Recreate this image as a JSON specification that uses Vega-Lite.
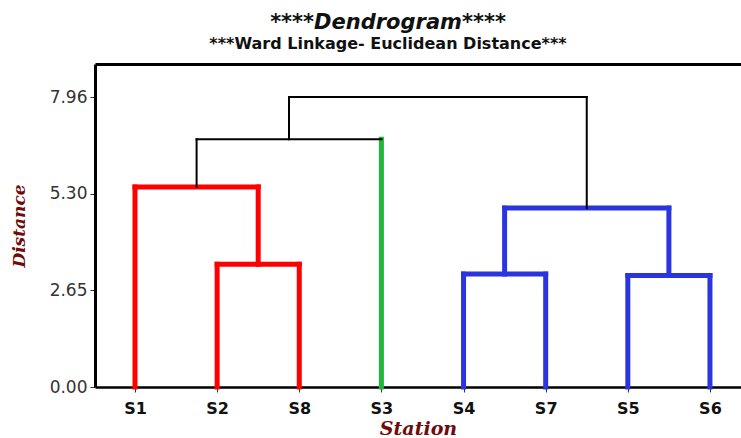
{
  "$schema": "https://vega.github.io/schema/vega-lite/v6.json",
  "autosize": {"type": "none"},
  "padding": {"left": 95, "top": 64, "right": 0, "bottom": 51},
  "width": 646,
  "height": 323,
  "background": "white",
  "config": {"view": {"stroke": null}},
  "title": {
    "text": "****Dendrogram****",
    "subtitle": "***Ward Linkage- Euclidean Distance***",
    "anchor": "middle",
    "dx": -30,
    "offset": 12,
    "font": "DejaVu Sans",
    "fontSize": 21,
    "fontWeight": "bold",
    "fontStyle": "italic",
    "color": "#111111",
    "subtitleFont": "DejaVu Sans",
    "subtitleFontSize": 16,
    "subtitleFontWeight": "bold",
    "subtitleColor": "#111111",
    "subtitlePadding": 3
  },
  "data": {
    "values": [
      {"x": 2, "x2": 2, "y": 0, "y2": 3.37, "grp": "red"},
      {"x": 3, "x2": 3, "y": 0, "y2": 3.37, "grp": "red"},
      {"x": 2, "x2": 3, "y": 3.37, "y2": 3.37, "grp": "red"},
      {"x": 1, "x2": 1, "y": 0, "y2": 5.49, "grp": "red"},
      {"x": 2.5, "x2": 2.5, "y": 3.37, "y2": 5.49, "grp": "red"},
      {"x": 1, "x2": 2.5, "y": 5.49, "y2": 5.49, "grp": "red"},
      {"x": 4, "x2": 4, "y": 0, "y2": 6.8, "grp": "green"},
      {"x": 5, "x2": 5, "y": 0, "y2": 3.1, "grp": "blue"},
      {"x": 6, "x2": 6, "y": 0, "y2": 3.1, "grp": "blue"},
      {"x": 5, "x2": 6, "y": 3.1, "y2": 3.1, "grp": "blue"},
      {"x": 7, "x2": 7, "y": 0, "y2": 3.06, "grp": "blue"},
      {"x": 8, "x2": 8, "y": 0, "y2": 3.06, "grp": "blue"},
      {"x": 7, "x2": 8, "y": 3.06, "y2": 3.06, "grp": "blue"},
      {"x": 5.5, "x2": 5.5, "y": 3.1, "y2": 4.91, "grp": "blue"},
      {"x": 7.5, "x2": 7.5, "y": 3.06, "y2": 4.91, "grp": "blue"},
      {"x": 5.5, "x2": 7.5, "y": 4.91, "y2": 4.91, "grp": "blue"},
      {"x": 1.75, "x2": 1.75, "y": 5.49, "y2": 6.8, "grp": "link"},
      {"x": 1.75, "x2": 4, "y": 6.8, "y2": 6.8, "grp": "link"},
      {"x": 2.875, "x2": 2.875, "y": 6.8, "y2": 7.96, "grp": "link"},
      {"x": 6.5, "x2": 6.5, "y": 4.91, "y2": 7.96, "grp": "link"},
      {"x": 2.875, "x2": 6.5, "y": 7.96, "y2": 7.96, "grp": "link"}
    ]
  },
  "resolve": {"axis": {"x": "independent"}},
  "layer": [
    {
      "mark": {"type": "rule", "strokeCap": "square"},
      "encoding": {
        "x": {
          "field": "x",
          "type": "quantitative",
          "scale": {"domain": [0.513, 8.378], "nice": false, "zero": false},
          "axis": {
            "values": [1, 2, 3, 4, 5, 6, 7, 8],
            "labelExpr": "['','S1','S2','S8','S3','S4','S7','S5','S6'][datum.value]",
            "grid": false,
            "domainColor": "#000000",
            "domainWidth": 2.5,
            "tickColor": "#333333",
            "tickSize": 5,
            "tickWidth": 1,
            "labelFont": "DejaVu Sans",
            "labelFontSize": 16,
            "labelFontWeight": "bold",
            "labelColor": "#111111",
            "labelPadding": 8,
            "title": "Station",
            "titleFont": "DejaVu Serif",
            "titleFontSize": 19,
            "titleFontWeight": "bold",
            "titleFontStyle": "italic",
            "titleColor": "#6E0B0B",
            "titleY": 47,
            "titleBaseline": "alphabetic"
          }
        },
        "x2": {"field": "x2"},
        "y": {
          "field": "y",
          "type": "quantitative",
          "scale": {"domain": [0, 8.866], "nice": false},
          "axis": {
            "values": [0, 2.65, 5.3, 7.96],
            "format": ".2f",
            "grid": false,
            "domainColor": "#000000",
            "domainWidth": 3,
            "tickColor": "#333333",
            "tickSize": 5,
            "tickWidth": 1,
            "labelFont": "DejaVu Sans",
            "labelFontSize": 17,
            "labelColor": "#333333",
            "labelPadding": 3,
            "title": "Distance",
            "titleFont": "DejaVu Serif",
            "titleFontSize": 17,
            "titleFontWeight": "bold",
            "titleFontStyle": "italic",
            "titleColor": "#6E0B0B",
            "titleX": -71,
            "titleY": 161.5,
            "titleAngle": -90,
            "titleAlign": "center",
            "titleBaseline": "alphabetic"
          }
        },
        "y2": {"field": "y2"},
        "color": {
          "field": "grp",
          "type": "nominal",
          "scale": {"domain": ["red", "green", "blue", "link"], "range": ["#FF0000", "#1DB83B", "#2A35E0", "#000000"]},
          "legend": null
        },
        "strokeWidth": {
          "condition": {"test": "datum.grp === 'link'", "value": 2},
          "value": 5
        }
      }
    },
    {
      "mark": {"type": "point", "opacity": 0},
      "encoding": {
        "x": {
          "field": "x",
          "type": "quantitative",
          "axis": {
            "orient": "top",
            "domainColor": "#000000",
            "domainWidth": 3,
            "ticks": false,
            "labels": false,
            "grid": false,
            "title": null
          }
        },
        "y": {"field": "y", "type": "quantitative"}
      }
    }
  ]
}
